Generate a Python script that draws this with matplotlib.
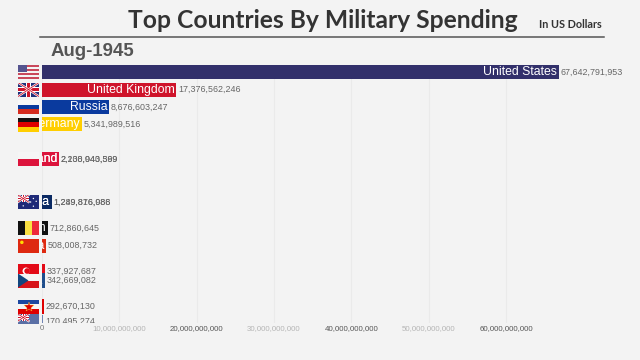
import matplotlib
matplotlib.use('Agg')
import matplotlib.pyplot as plt
from matplotlib.patches import Rectangle, Polygon, Circle

countries = ['United States', 'United Kingdom', 'Russia', 'Germany', 'Poland', 'Poland',
             'Australia', 'Australia', 'Belgium', 'China', 'Turkey', 'Czechoslovakia',
             'Yugoslavia', 'New Zealand']
values = [66.8, 17.38, 8.68, 5.13, 2.21, 2.13, 1.25, 1.29, 0.73, 0.51, 0.34, 0.34, 0.29, 0.17]
labels = ['67,642,791,953', '17,376,562,246', '8,676,603,247', '5,341,989,516',
          '2,208,943,569', '2,130,040,399', '1,249,876,986', '1,289,816,088',
          '712,860,645', '508,008,732', '337,927,687', '342,669,082',
          '292,670,130', '170,495,274']
ranks = [1, 2, 3, 4, 6, 6, 8.48, 8.48, 9.98, 10.99, 12.46, 13.0, 14.5, 15.38]
colors = ['#32306b', '#cf142b', '#0a3a9e', '#ffce00', '#dc143c', '#dc143c',
          '#0b2a63', '#0b2a63', '#111111', '#de2910', '#e30a17', '#1f4e8c',
          '#de0000', '#6f83b3']
ticks = [0, 10, 20, 30, 40, 50, 60]
tick_labels = ['0', '10,000,000,000', '20,000,000,000', '30,000,000,000',
               '40,000,000,000', '50,000,000,000', '60,000,000,000']
tick_colors = ['#777777', '#b5b5b5', '#555555', '#b5b5b5', '#555555', '#b5b5b5', '#555555']

BG = '#f3f3f3'
plt.rcParams['font.family'] = ['Liberation Sans', 'DejaVu Sans']

fig = plt.figure(figsize=(6.4, 3.6), dpi=100, facecolor=BG)
# axes spans px x 42..640, y 65..322.5
ax = fig.add_axes([42/640, 1-322.5/360, 598/640, 257.5/360], facecolor=BG)
ax.set_xlim(0, 598/7.733)
ax.set_ylim(1+(322.5-72.3)/17.35, 1-(72.3-65)/17.35)
for s in ax.spines.values():
    s.set_visible(False)
ax.set_xticks(ticks)
ax.set_xticklabels(tick_labels, fontsize=5.7)
for t, c in zip(ax.get_xticklabels(), tick_colors):
    t.set_color(c)
ax.tick_params(axis='x', length=0, pad=1.5)
ax.set_yticks([])
ax.xaxis.grid(True, color='#eaeaea', lw=0.8)
ax.set_axisbelow(True)

for name, v, lab, r, c in zip(countries, values, labels, ranks, colors):
    ax.barh(r, v, height=0.82, color=c, zorder=2)
    txt = ax.text(v - 0.2, r, name, ha='right', va='center', fontsize=8.8,
                  color='white', zorder=3, clip_on=True)
    txt.set_clip_path(Rectangle((0, r - 0.41), v, 0.82, transform=ax.transData))
    ax.text(v + 0.2, r, lab, ha='left', va='center', fontsize=6.4, color='#666666', zorder=3, clip_on=True)


def flag(px_y, bottom=None):
    y1 = px_y + 7 if bottom is None else bottom
    a = fig.add_axes([18/640, 1-y1/360, 21/640, (y1-(px_y-7))/360], facecolor='white')
    a.set_xlim(0, 3)
    a.set_ylim(2-2*(y1-(px_y-7))/14, 2)
    a.axis('off')
    return a


def hstripes(a, cols):
    n = len(cols)
    for i, c in enumerate(cols):
        a.add_patch(Rectangle((0, 2-2*(i+1)/n), 3, 2/n, color=c, lw=0))


def vstripes(a, cols):
    n = len(cols)
    for i, c in enumerate(cols):
        a.add_patch(Rectangle((3*i/n, 0), 3/n, 2, color=c, lw=0))


def union(a, x0, x1, y0, y1):
    a.add_patch(Rectangle((x0, y0), x1-x0, y1-y0, color='#1f2f7a', lw=0))
    w = x1-x0
    h = y1-y0
    a.plot([x0, x1], [y0, y1], color='white', lw=1.6)
    a.plot([x0, x1], [y1, y0], color='white', lw=1.6)
    a.plot([x0, x1], [y0, y1], color='#cf142b', lw=0.6)
    a.plot([x0, x1], [y1, y0], color='#cf142b', lw=0.6)
    a.add_patch(Rectangle((x0, y0+h*0.35), w, h*0.3, color='white', lw=0))
    a.add_patch(Rectangle((x0+w*0.38, y0), w*0.24, h, color='white', lw=0))
    a.add_patch(Rectangle((x0, y0+h*0.42), w, h*0.16, color='#cf142b', lw=0))
    a.add_patch(Rectangle((x0+w*0.44, y0), w*0.12, h, color='#cf142b', lw=0))


# flags
a = flag(72)
hstripes(a, ['#c9485b', '#f4f4f4'] * 3 + ['#c9485b'])
a.add_patch(Rectangle((0, 1), 1.3, 1, color='#55548f', lw=0))
a = flag(89.5)
union(a, 0, 3, 0, 2)
a = flag(107)
hstripes(a, ['#f8f8f8', '#0a3a9e', '#d52b1e'])
a = flag(124.5)
hstripes(a, ['#111111', '#dd0000', '#ffce00'])
a = flag(159)
hstripes(a, ['#f5f5f5', '#dc143c'])
a = flag(202)
a.add_patch(Rectangle((0, 0), 3, 2, color='#1f2a78', lw=0))
union(a, 0, 1.5, 1, 2)
for x, y in [(2.2, 1.5), (1.8, 1.0), (2.6, 1.1), (2.2, 0.4), (0.75, 0.45)]:
    a.add_patch(Circle((x, y), 0.1, color='white', lw=0))
a = flag(228)
vstripes(a, ['#111111', '#fae042', '#ed2939'])
a = flag(245.5)
a.add_patch(Rectangle((0, 0), 3, 2, color='#de2910', lw=0))
a.add_patch(Circle((0.55, 1.45), 0.25, color='#ffde00', lw=0))
a = flag(271)
a.add_patch(Rectangle((0, 0), 3, 2, color='#e30a17', lw=0))
a.add_patch(Circle((1.15, 1), 0.5, color='white', lw=0))
a.add_patch(Circle((1.3, 1), 0.4, color='#e30a17', lw=0))
a = flag(280.5)
hstripes(a, ['#f5f5f5', '#d7141a'])
a.add_patch(Polygon([(0, 0), (1.5, 1), (0, 2)], color='#11457e', lw=0))
a = flag(306.5)
hstripes(a, ['#1c47a0', '#f5f5f5', '#de0000'])
a.plot([1.5], [1], marker='*', ms=7, color='#de0000', mec='#ffd24a', mew=0.3)
a = flag(321, bottom=323.5)
a.add_patch(Rectangle((0, -2), 3, 4, color='#5a6fa5', lw=0))
union(a, 0, 1.5, 1, 2)

# header
fig.text(128/640, 1-21/360, 'Top Countries By Military Spending', fontsize=17.7, fontweight='bold',
         family=['Lato', 'DejaVu Sans'], color='#333333', ha='left', va='center')
fig.text(539/640, 1-25/360, 'In US Dollars', fontsize=7.8, fontweight='bold',
         family=['Lato', 'DejaVu Sans'], color='#333333', ha='left', va='center')
fig.add_artist(plt.Line2D([40/640, 604/640], [1-37/360, 1-37/360], color='#555555', lw=1.1))
fig.text(51/640, 1-52/360, 'Aug-1945', fontsize=13.4, fontweight='bold', color='#555555', ha='left', va='center')

fig.savefig('out.png', dpi=100, facecolor=BG)
